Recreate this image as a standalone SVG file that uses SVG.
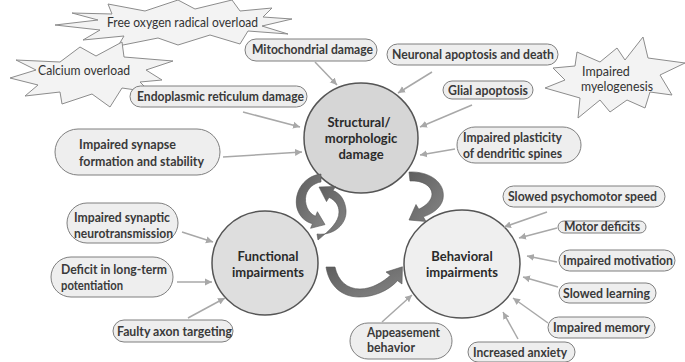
<svg xmlns="http://www.w3.org/2000/svg" width="685" height="362" viewBox="0 0 685 362">
<style>
.pill{fill:#eeeeee;stroke:#7f7f7f;stroke-width:1}
.burst{fill:#f3f3f3;stroke:#8c8c8c;stroke-width:1}
.lbl{font-family:Lato,"Liberation Sans",sans-serif;font-weight:bold;font-size:12.5px;fill:#3a3a3a}
.blbl{font-family:Lato,"Liberation Sans",sans-serif;font-size:12.5px;fill:#333}
.ctr{font-family:Lato,"Liberation Sans",sans-serif;font-weight:bold;font-size:13px;fill:#2a2a2a;text-anchor:middle}
.circ{stroke:#555;stroke-width:1.5}
.con{stroke:#a8a8a8;stroke-width:1.5;fill:none;marker-end:url(#ah)}
.big{fill:url(#g);stroke:#555;stroke-width:0.6}
</style>
<defs>
<marker id="ah" markerUnits="userSpaceOnUse" markerWidth="8" markerHeight="8" refX="7" refY="4" orient="auto">
<path d="M0,0.5 L7,4 L0,7.5 Z" fill="#a8a8a8"/>
</marker>
<linearGradient id="g" x1="0" y1="0" x2="1" y2="1">
<stop offset="0" stop-color="#5e5e5e"/>
<stop offset="1" stop-color="#858585"/>
</linearGradient>
</defs>
<rect width="685" height="362" fill="#ffffff"/>

<g id="n-free-oxygen">
<polygon class="burst" points="55,25 98,20 72,13 112,14 108,4 145,11 178,0 195,9 232,0 240,11 272,8 263,17 292,19 262,26 288,34 248,31 240,44 210,35 178,45 158,38 118,46 124,36 83,40 100,30"/>
<text class="blbl" x="107" y="27" textLength="151" lengthAdjust="spacingAndGlyphs">Free oxygen radical overload</text>
</g>
<g id="n-calcium">
<polygon class="burst" points="10,78 36,70 16,60 60,62 80,47 96,56 122,42 124,57 173,61 146,70 162,80 140,82 150,92 122,88 110,107 92,94 62,104 60,92 25,96 38,85"/>
<text class="blbl" x="38" y="75" textLength="92" lengthAdjust="spacingAndGlyphs">Calcium overload</text>
</g>
<g id="n-myelogenesis">
<polygon class="burst" points="643,37 648,58 685,63 660,75 672,95 650,92 645,108 627,100 610,112 600,100 578,118 580,98 545,88 565,80 553,68 575,66 577,52 600,62 617,48 625,60"/>
<text class="blbl" x="582" y="76">Impaired</text>
<text class="blbl" x="581" y="91" textLength="72" lengthAdjust="spacingAndGlyphs">myelogenesis</text>
</g>

<g id="n-mito">
<rect class="pill" x="245" y="39" width="132" height="22" rx="11"/>
<text class="lbl" x="252" y="54" textLength="121" lengthAdjust="spacingAndGlyphs">Mitochondrial damage</text>
</g>
<g id="n-neuronal">
<rect class="pill" x="387" y="44" width="171" height="21" rx="10.5"/>
<text class="lbl" x="392" y="59" textLength="162" lengthAdjust="spacingAndGlyphs">Neuronal apoptosis and death</text>
</g>
<g id="n-glial">
<rect class="pill" x="443" y="81" width="90" height="18" rx="9"/>
<text class="lbl" x="448" y="94.5" textLength="80" lengthAdjust="spacingAndGlyphs">Glial apoptosis</text>
</g>
<g id="n-er">
<rect class="pill" x="130" y="86" width="177" height="21" rx="10.5"/>
<text class="lbl" x="137" y="101" textLength="167" lengthAdjust="spacingAndGlyphs">Endoplasmic reticulum damage</text>
</g>
<g id="n-synapse">
<rect class="pill" x="55" y="129" width="165" height="46" rx="23"/>
<text class="lbl" x="79" y="149" textLength="97" lengthAdjust="spacingAndGlyphs">Impaired synapse</text>
<text class="lbl" x="79" y="166" textLength="125" lengthAdjust="spacingAndGlyphs">formation and stability</text>
</g>
<g id="n-plasticity">
<rect class="pill" x="457" y="127" width="124" height="36" rx="18"/>
<text class="lbl" x="463" y="142" textLength="99" lengthAdjust="spacingAndGlyphs">Impaired plasticity</text>
<text class="lbl" x="463" y="158" textLength="99" lengthAdjust="spacingAndGlyphs">of dendritic spines</text>
</g>
<g id="n-neurotrans">
<rect class="pill" x="67" y="203" width="111" height="40" rx="20"/>
<text class="lbl" x="74" y="222" textLength="96" lengthAdjust="spacingAndGlyphs">Impaired synaptic</text>
<text class="lbl" x="74" y="238" textLength="99" lengthAdjust="spacingAndGlyphs">neurotransmission</text>
</g>
<g id="n-ltp">
<rect class="pill" x="51" y="257" width="122" height="40" rx="20"/>
<text class="lbl" x="61" y="274" textLength="106" lengthAdjust="spacingAndGlyphs">Deficit in long-term</text>
<text class="lbl" x="61" y="290" textLength="62" lengthAdjust="spacingAndGlyphs">potentiation</text>
</g>
<g id="n-faulty">
<rect class="pill" x="113" y="320" width="120" height="22" rx="11"/>
<text class="lbl" x="117" y="336" textLength="115" lengthAdjust="spacingAndGlyphs">Faulty axon targeting</text>
</g>
<g id="n-psychomotor">
<rect class="pill" x="503" y="186" width="162" height="21" rx="10.5"/>
<text class="lbl" x="508" y="201" textLength="149" lengthAdjust="spacingAndGlyphs">Slowed psychomotor speed</text>
</g>
<g id="n-motor">
<rect class="pill" x="558" y="221" width="88" height="12" rx="6"/>
<text class="lbl" x="564" y="231" textLength="76" lengthAdjust="spacingAndGlyphs">Motor deficits</text>
</g>
<g id="n-motivation">
<rect class="pill" x="559" y="250" width="116" height="21" rx="10.5"/>
<text class="lbl" x="563" y="265" textLength="110" lengthAdjust="spacingAndGlyphs">Impaired motivation</text>
</g>
<g id="n-learning">
<rect class="pill" x="559" y="283" width="97" height="20" rx="10"/>
<text class="lbl" x="563" y="297.5" textLength="87" lengthAdjust="spacingAndGlyphs">Slowed learning</text>
</g>
<g id="n-memory">
<rect class="pill" x="548" y="317" width="107" height="21" rx="10.5"/>
<text class="lbl" x="553" y="332" textLength="97" lengthAdjust="spacingAndGlyphs">Impaired memory</text>
</g>
<g id="n-anxiety">
<rect class="pill" x="468" y="342" width="107" height="20" rx="10"/>
<text class="lbl" x="473" y="356.5" textLength="94" lengthAdjust="spacingAndGlyphs">Increased anxiety</text>
</g>
<g id="n-appeasement">
<rect class="pill" x="350" y="323" width="102" height="36" rx="18"/>
<text class="lbl" x="367" y="337" textLength="73" lengthAdjust="spacingAndGlyphs">Appeasement</text>
<text class="lbl" x="367" y="352" textLength="48" lengthAdjust="spacingAndGlyphs">behavior</text>
</g>

<g id="n-structural">
<ellipse class="circ" cx="361" cy="138" rx="57" ry="55" fill="#d6d6d6"/>
<text class="ctr" x="359" y="127">Structural/</text>
<text class="ctr" x="361" y="143">morphologic</text>
<text class="ctr" x="361" y="159">damage</text>
</g>
<g id="n-functional">
<ellipse class="circ" cx="265" cy="263" rx="53" ry="52" fill="#dedede"/>
<text class="ctr" x="268" y="261">Functional</text>
<text class="ctr" x="268" y="277">impairments</text>
</g>
<g id="n-behavioral">
<ellipse class="circ" cx="462" cy="264" rx="58" ry="54" fill="#efefef"/>
<text class="ctr" x="462" y="261">Behavioral</text>
<text class="ctr" x="462" y="277">impairments</text>
</g>

<g id="connectors">
<line class="con" x1="315" y1="62" x2="337" y2="85"/>
<line class="con" x1="432" y1="72" x2="398" y2="93"/>
<line class="con" x1="472" y1="105" x2="420" y2="127"/>
<line class="con" x1="243" y1="112" x2="300" y2="127"/>
<line class="con" x1="223" y1="157" x2="302" y2="152"/>
<line class="con" x1="455" y1="149" x2="420" y2="155"/>
<line class="con" x1="182" y1="232" x2="213" y2="242"/>
<line class="con" x1="177" y1="282" x2="212" y2="282"/>
<line class="con" x1="188" y1="318" x2="225" y2="298"/>
<line class="con" x1="547" y1="212" x2="504" y2="227"/>
<line class="con" x1="557" y1="228" x2="519" y2="238"/>
<line class="con" x1="557" y1="262" x2="527" y2="256"/>
<line class="con" x1="558" y1="287" x2="523" y2="277"/>
<line class="con" x1="548" y1="323" x2="513" y2="298"/>
<line class="con" x1="518" y1="339" x2="503" y2="312"/>
<line class="con" x1="382" y1="322" x2="412" y2="295"/>
<path class="big" d="M409,172 C430,171 446,183 443,199 C441,208 432,214 423.3,216.8 L426,221.5 L409,220 L416,204.5 L418.8,209.2 C426,206 432,200 432,194 C432,186 422,180 410,181 Z"/>
<path class="big" d="M326,267 L335,267 C338,281 347,289 360,289 C372,289 383,282 390.4,275.3 L386,272 L402.4,266.8 L402,284 L397.6,280.7 C388,291 374,297 359,297 C342,297 329,286 326,267 Z"/>
<path class="big" d="M321,174 C302,176 292,196 298,211 C301,218 306,222 312.5,223.7 L310.6,228.3 L325,224.6 L317.4,211.7 L315.5,216.3 C308,213 304,204 306,195 C308,188 314,183 321,182 Z"/>
<path class="big" d="M317,234 C334,236 347,224 346,210 C345,200 340,193 333,190.6 L335.5,186.4 L319,187 L326.5,201.6 L329,197.4 C335,200 339,205 339,212 C339,222 330,230 318,240 Z"/>
</g>
</svg>
